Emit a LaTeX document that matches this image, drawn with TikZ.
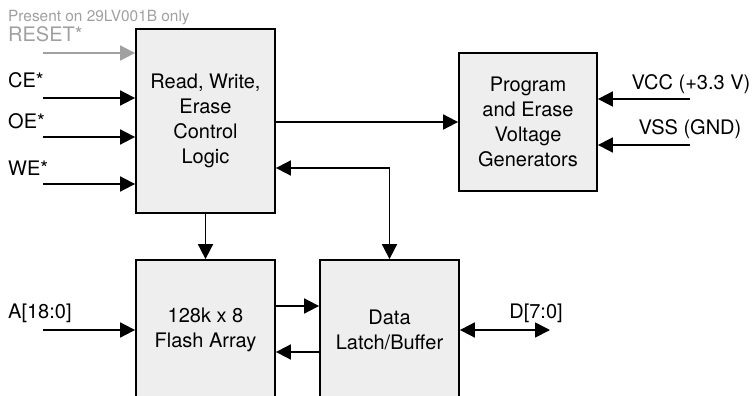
\documentclass[tikz,border=0pt]{standalone}
\usepackage{fontspec}
\setmainfont{TeX Gyre Heros}
\usepackage{xcolor}
\usepackage{tikz}
\usetikzlibrary{arrows.meta,positioning,calc}
\definecolor{blockgray}{HTML}{EEEEEE}
\definecolor{optgray}{HTML}{A0A0A0}

\begin{document}
\begin{tikzpicture}[x=1pt, y=-1pt,
		block/.style={draw, fill=blockgray, line width=1.8pt, minimum width=139pt, align=center, font=\fontsize{20}{25}\selectfont},
		sig/.style={inner sep=0pt, font=\fontsize{20}{24}\selectfont},
		wire/.style={line width=1.8pt, -{Triangle[length=15pt,width=15pt]}},
		bus/.style={line width=1.8pt, {Triangle[length=15pt,width=15pt]}-{Triangle[length=15pt,width=15pt]}}]
		\path[use as bounding box, clip] (0,0) rectangle (755,396);

		\node[block, minimum height=184pt] (ctrl) at (205.5,121) {Read, Write,\\Erase\\Control\\Logic};
		\node[block, minimum height=138pt, minimum width=138pt] (prog) at (528,122) {Program\\and Erase\\Voltage\\Generators};
		\node[block, minimum height=140pt] (flash) at (205.5,330) {128k x 8\\Flash Array};
		\node[block, minimum height=140pt] (data) at (389.5,330) {Data\\Latch/Buffer};

		\coordinate (resetin) at (43,53);
		\coordinate (cein) at (43,98);
		\coordinate (oein) at (43,137);
		\coordinate (wein) at (43,184);
		\coordinate (addrin) at (43,330);
		\coordinate (dataout) at (550,330);
		\coordinate (vccin) at (690,99);
		\coordinate (vssin) at (690,145);

		\node[sig, anchor=base west, text=optgray, font=\fontsize{15.4}{18}\selectfont] (notelbl) at (8,22) {Present on 29LV001B only};
		\node[sig, anchor=base west, text=optgray] (resetlbl) at (8,42) {RESET*};
		\node[sig, anchor=base west] (celbl) at (8,88) {CE*};
		\node[sig, anchor=base west] (oelbl) at (8,128) {OE*};
		\node[sig, anchor=base west] (welbl) at (8,175) {WE*};
		\node[sig, anchor=base west] (addrlbl) at (8,318) {A[18:0]};
		\node[sig, anchor=base] (datalbl) at (536,318) {D[7:0]};
		\node[sig, anchor=base] (vcclbl) at (691,89) {VCC (+3.3 V)};
		\node[sig, anchor=base] (vsslbl) at (690,134) {VSS (GND)};

		\draw[wire, optgray] (resetin) -- (ctrl.west |- resetin);
		\draw[wire] (cein) -- (ctrl.west |- cein);
		\draw[wire] (oein) -- (ctrl.west |- oein);
		\draw[wire] (wein) -- (ctrl.west |- wein);

		\draw[wire] (ctrl.east |- prog.west) -- (prog.west);
		\draw[bus] ([yshift=-47pt]ctrl.east) -| (data.north);
		\draw[wire] (ctrl.south) -- (flash.north);
		\draw[wire] ([yshift=24pt]flash.east) -- ([yshift=24pt]data.west);
		\draw[wire] ([yshift=-22pt]data.west) -- ([yshift=-22pt]flash.east);

		\draw[wire] (addrin) -- (flash.west);
		\draw[bus] (data.east) -- (dataout);
		\draw[wire] (vccin) -- (prog.east |- vccin);
		\draw[wire] (vssin) -- (prog.east |- vssin);
	\end{tikzpicture}
\end{document}
